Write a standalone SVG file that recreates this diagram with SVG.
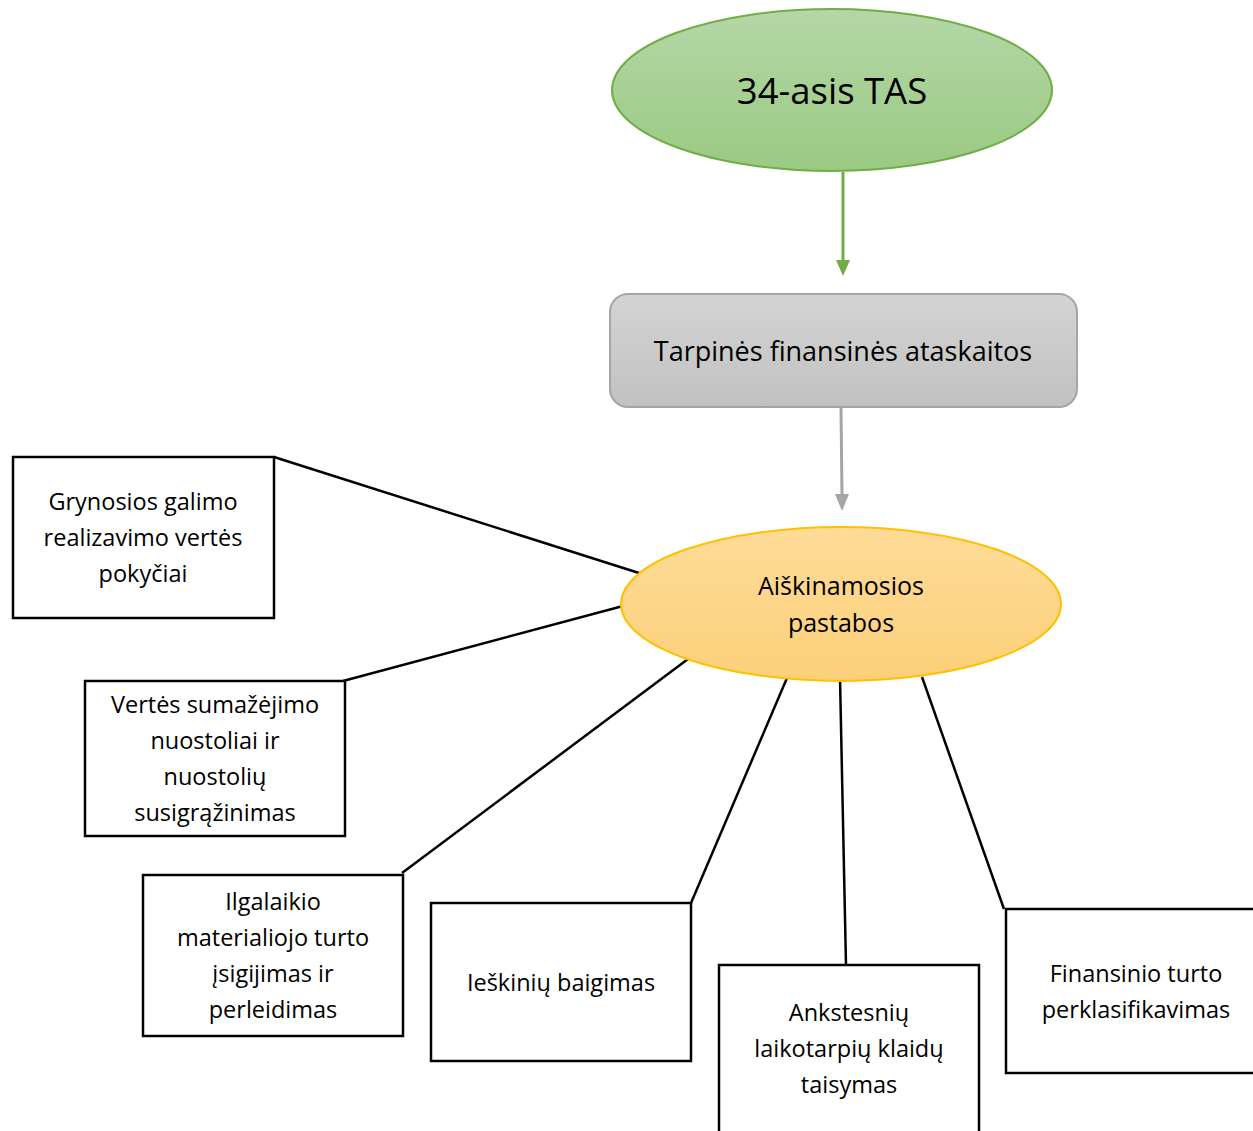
<svg xmlns="http://www.w3.org/2000/svg" width="1253" height="1131" viewBox="0 0 1253 1131">
<defs>
<linearGradient id="gGreen" x1="0" y1="0" x2="0" y2="1"><stop offset="0" stop-color="#b5d7a7"/><stop offset="1" stop-color="#9aca82"/></linearGradient>
<linearGradient id="gGray" x1="0" y1="0" x2="0" y2="1"><stop offset="0" stop-color="#d4d4d4"/><stop offset="1" stop-color="#c1c1c1"/></linearGradient>
<linearGradient id="gOrange" x1="0" y1="0" x2="0" y2="1"><stop offset="0" stop-color="#fedb98"/><stop offset="1" stop-color="#fcd07a"/></linearGradient>
</defs>
<style>
text{font-family:"Open Sans","Noto Sans","Liberation Sans",sans-serif;fill:#000;text-anchor:middle}
.box{fill:#fff;stroke:#000;stroke-width:2.5}
.bt{font-size:23.5px}
.link{stroke:#000;stroke-width:2.5;fill:none}
</style>
<rect width="1253" height="1131" fill="#fff"/>
<g id="connectors">
<path d="M843,172 L843,262" stroke="#70ad47" stroke-width="3"/>
<path d="M836,260 L850,260 L843,276 z" fill="#70ad47"/>
<path d="M841,407 L842,496" stroke="#a5a5a5" stroke-width="3"/>
<path d="M835,494 L849,494 L842,511 z" fill="#a5a5a5"/>
<line class="link" x1="274" y1="457" x2="639" y2="573"/>
<line class="link" x1="343" y1="681" x2="623" y2="606"/>
<line class="link" x1="402" y1="873" x2="688" y2="659"/>
<line class="link" x1="691" y1="903" x2="787" y2="678"/>
<line class="link" x1="846" y1="965" x2="840" y2="678"/>
<line class="link" x1="1004" y1="909" x2="922" y2="677"/>
</g>
<g id="n-tas">
<ellipse cx="832" cy="90" rx="220" ry="81" fill="url(#gGreen)" stroke="#70ad47" stroke-width="2"/>
<text x="832" y="104" font-size="36.5">34-asis TAS</text>
</g>
<g id="n-tarpines">
<rect x="610" y="294" width="467" height="113" rx="18" fill="url(#gGray)" stroke="#a5a5a5" stroke-width="2"/>
<text x="843" y="361" font-size="27">Tarpinės finansinės ataskaitos</text>
</g>
<g id="n-aiskinamosios">
<ellipse cx="841" cy="604" rx="220" ry="77" fill="url(#gOrange)" stroke="#ffc000" stroke-width="2"/>
<text x="841" y="595" font-size="25">Aiškinamosios</text>
<text x="841" y="632" font-size="25">pastabos</text>
</g>
<g id="n-grynosios">
<rect class="box" x="13" y="457" width="261" height="161"/>
<text class="bt" x="143" y="510">Grynosios galimo</text>
<text class="bt" x="143" y="546">realizavimo vertės</text>
<text class="bt" x="143" y="582">pokyčiai</text>
</g>
<g id="n-vertes">
<rect class="box" x="85" y="681" width="260" height="155"/>
<text class="bt" x="215" y="713">Vertės sumažėjimo</text>
<text class="bt" x="215" y="749">nuostoliai ir</text>
<text class="bt" x="215" y="785">nuostolių</text>
<text class="bt" x="215" y="821">susigrąžinimas</text>
</g>
<g id="n-ilgalaikio">
<rect class="box" x="143" y="875" width="260" height="161"/>
<text class="bt" x="273" y="910">Ilgalaikio</text>
<text class="bt" x="273" y="946">materialiojo turto</text>
<text class="bt" x="273" y="982">įsigijimas ir</text>
<text class="bt" x="273" y="1018">perleidimas</text>
</g>
<g id="n-ieskiniu">
<rect class="box" x="431" y="903" width="260" height="158"/>
<text class="bt" x="561" y="991">Ieškinių baigimas</text>
</g>
<g id="n-ankstesniu">
<rect class="box" x="719" y="965" width="260" height="180"/>
<text class="bt" x="849" y="1021">Ankstesnių</text>
<text class="bt" x="849" y="1057">laikotarpių klaidų</text>
<text class="bt" x="849" y="1093">taisymas</text>
</g>
<g id="n-finansinio">
<rect class="box" x="1006" y="909" width="260" height="164"/>
<text class="bt" x="1136" y="982">Finansinio turto</text>
<text class="bt" x="1136" y="1018">perklasifikavimas</text>
</g>
</svg>
